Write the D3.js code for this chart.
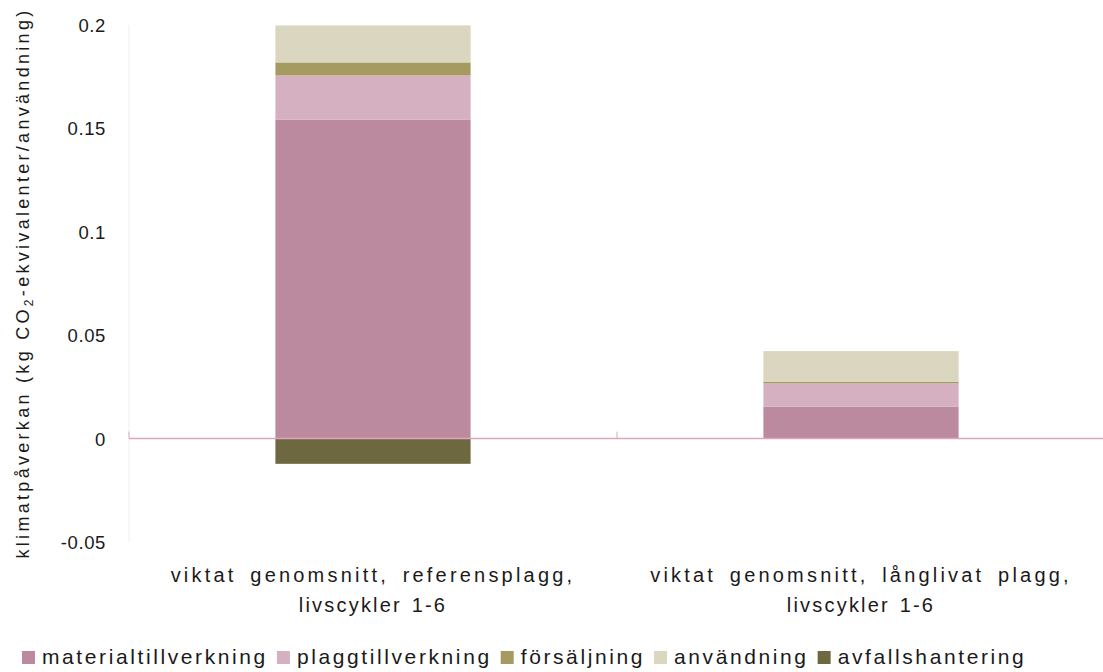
<!DOCTYPE html>
<html>
<head>
<meta charset="utf-8">
<script src="https://cdn.jsdelivr.net/npm/d3@7"></script>
<style>
  html, body { margin: 0; padding: 0; background: #fff; }
  svg { display: block; font-family: "Liberation Sans", Arial, sans-serif; }
</style>
</head>
<body>
<svg id="chart" width="1103" height="672"></svg>
<script>
// Categories (two lines each) and stage names
const categories = [
  ["viktat genomsnitt, referensplagg,", "livscykler 1-6"],
  ["viktat genomsnitt, långlivat plagg,", "livscykler 1-6"]
];
const stages = ["materialtillverkning", "plaggtillverkning", "försäljning", "användning", "avfallshantering"];
const stageColors = ["#bc8a9f", "#d4b0c0", "#a59a5f", "#dbd6bf", "#6e6841"];

// Values per stage (kg CO2-ekv per användning), one entry per category
const materialtillverkning = [0.1543, 0.0154];
const plaggtillverkning   = [0.0213, 0.0113];
const forsaljning         = [0.0063, 0.0007];
const anvandning          = [0.0179, 0.0149];
const avfallshantering    = [-0.0122, 0.0];

const yTicks = [-0.05, 0, 0.05, 0.1, 0.15, 0.2];
const yTickLabels = ["-0.05", "0", "0.05", "0.1", "0.15", "0.2"];

const series = [materialtillverkning, plaggtillverkning, forsaljning, anvandning, avfallshantering];

const svg = d3.select("#chart");
const plot = { left: 129, right: 1105, top: 25, bottom: 542 };

const x = d3.scaleBand()
  .domain(d3.range(categories.length))
  .range([plot.left, plot.right])
  .paddingInner(0)
  .paddingOuter(0);

const y = d3.scaleLinear()
  .domain([-0.05, 0.2])
  .range([plot.bottom, plot.top]);

// Faint value axis line
svg.append("line")
  .attr("x1", plot.left).attr("x2", plot.left)
  .attr("y1", y(0.2)).attr("y2", y(-0.05))
  .attr("stroke", "#efefef").attr("stroke-width", 1);

// Tick labels
svg.append("g").selectAll("text")
  .data(yTicks)
  .join("text")
  .attr("x", 106)
  .attr("y", d => y(d) + 7)
  .attr("text-anchor", "end")
  .attr("font-size", 18.5)
  .attr("letter-spacing", 0.6)
  .attr("fill", "#1a1a1a")
  .text((d, i) => yTickLabels[i]);

// Stacked bars: positives stack upward, negatives downward
const barWidth = x.bandwidth() * 0.4;
categories.forEach((c, ci) => {
  let pos = 0, neg = 0;
  series.forEach((s, si) => {
    const v = s[ci];
    let y0, y1;
    if (v >= 0) { y0 = pos; y1 = pos + v; pos = y1; }
    else { y0 = neg; y1 = neg + v; neg = y1; }
    if (v === 0) return;
    svg.append("rect")
      .attr("x", x(ci) + (x.bandwidth() - barWidth) / 2)
      .attr("width", barWidth)
      .attr("y", y(Math.max(y0, y1)))
      .attr("height", Math.abs(y(y0) - y(y1)))
      .attr("fill", stageColors[si]);
  });
});

// Category axis along zero
const zeroY = y(0);
svg.append("line")
  .attr("x1", plot.left).attr("x2", plot.right)
  .attr("y1", zeroY).attr("y2", zeroY)
  .attr("stroke", "#d9a9bb").attr("stroke-width", 1.5);
[plot.left, plot.left + x.bandwidth()].forEach(tx => {
  svg.append("line")
    .attr("x1", tx).attr("x2", tx)
    .attr("y1", zeroY).attr("y2", zeroY - 7)
    .attr("stroke", "#d9a9bb").attr("stroke-width", 1);
});

// Category labels (first line set wider, as in the original layout)
categories.forEach((lines, ci) => {
  lines.forEach((ln, li) => {
    svg.append("text")
      .attr("x", x(ci) + x.bandwidth() / 2)
      .attr("y", 582 + li * 30)
      .attr("text-anchor", "middle")
      .attr("font-size", 20)
      .attr("letter-spacing", li === 0 ? 3.2 : 2.2)
      .attr("word-spacing", li === 0 ? 5 : 2)
      .attr("fill", "#1a1a1a")
      .text(ln);
  });
});

// Value axis title with subscript
const title = svg.append("text")
  .attr("transform", "translate(29,283) rotate(-90)")
  .attr("text-anchor", "middle")
  .attr("font-size", 18)
  .attr("letter-spacing", 3.3)
  .attr("fill", "#1a1a1a");
title.append("tspan").text("klimatpåverkan (kg CO");
title.append("tspan").attr("font-size", 12).attr("dy", 4).text("2");
title.append("tspan").attr("dy", -4).text("-ekvivalenter/användning)");

// Legend
const legend = svg.append("g");
let lx = 22;
stages.forEach((name, i) => {
  legend.append("rect")
    .attr("x", lx).attr("y", 651)
    .attr("width", 13).attr("height", 13)
    .attr("fill", stageColors[i]);
  const txt = legend.append("text")
    .attr("x", lx + 20).attr("y", 664)
    .attr("font-size", 21)
    .attr("letter-spacing", 2.6)
    .attr("fill", "#1a1a1a")
    .text(name);
  lx += 20 + txt.node().getComputedTextLength() + 9;
});
</script>
</body>
</html>
